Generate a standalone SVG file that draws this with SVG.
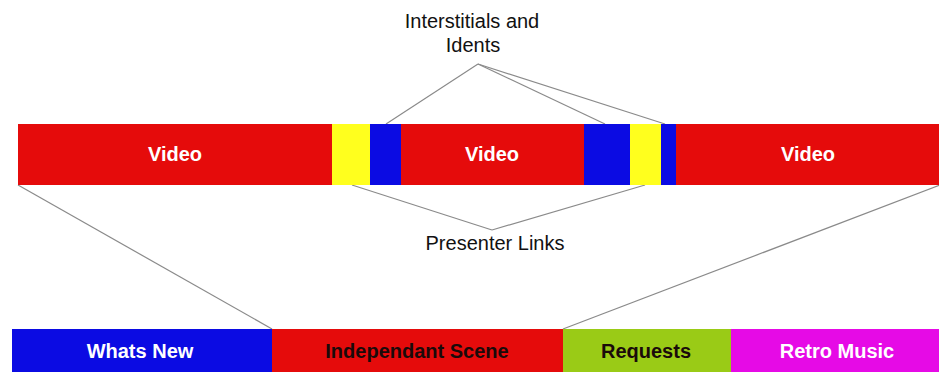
<svg xmlns="http://www.w3.org/2000/svg" width="939" height="372" viewBox="0 0 939 372">
  <style>
    .red { fill: #e50b0b; }
    .blue { fill: #0b0be3; }
    .yellow { fill: #ffff1e; }
    .green { fill: #9acb16; }
    .magenta { fill: #e60ae6; }
    .lbl { font-family: "Liberation Sans", Arial, sans-serif; font-weight: bold; font-size: 20px; text-anchor: middle; }
    .light { fill: #ffffff; }
    .dark { fill: #1a0a0a; }
    .note { font-family: "Liberation Sans", Arial, sans-serif; font-size: 20px; text-anchor: middle; fill: #111111; }
    .conn line { stroke: #8a8a8a; stroke-width: 1.2; fill: none; }
  </style>
  <rect width="939" height="372" fill="#ffffff"/>

  <!-- connectors -->
  <g id="connectors" class="conn">
    <line x1="478" y1="64" x2="386" y2="124"/>
    <line x1="478" y1="64" x2="605" y2="124"/>
    <line x1="478" y1="64" x2="665" y2="124"/>
    <line x1="352" y1="185" x2="492" y2="230"/>
    <line x1="645" y1="185" x2="492" y2="230"/>
    <line x1="18" y1="185" x2="272" y2="329"/>
    <line x1="940" y1="185" x2="563" y2="329"/>
  </g>

  <!-- timeline strip -->
  <g id="video1"><rect class="red" x="18" y="124" width="314" height="61"/><text class="lbl light" x="175" y="161">Video</text></g>
  <g id="presenter1"><rect class="yellow" x="332" y="124" width="38" height="61"/></g>
  <g id="ident1"><rect class="blue" x="370" y="124" width="31" height="61"/></g>
  <g id="video2"><rect class="red" x="401" y="124" width="183" height="61"/><text class="lbl light" x="492" y="161">Video</text></g>
  <g id="ident2"><rect class="blue" x="584" y="124" width="46" height="61"/></g>
  <g id="presenter2"><rect class="yellow" x="630" y="124" width="31" height="61"/></g>
  <g id="ident3"><rect class="blue" x="661" y="124" width="15" height="61"/></g>
  <g id="video3"><rect class="red" x="676" y="124" width="263" height="61"/><text class="lbl light" x="808" y="161">Video</text></g>

  <!-- callout labels -->
  <g id="interstitials">
    <text class="note" x="472" y="28">Interstitials and</text>
    <text class="note" x="473" y="52">Idents</text>
  </g>
  <g id="presenterLinks"><text class="note" x="495" y="250">Presenter Links</text></g>

  <!-- programme strip -->
  <g id="whatsNew"><rect class="blue" x="12" y="329" width="260" height="45"/><text class="lbl light" x="140" y="358">Whats New</text></g>
  <g id="independantScene"><rect class="red" x="272" y="329" width="291" height="45"/><text class="lbl dark" x="417" y="358">Independant Scene</text></g>
  <g id="requests"><rect class="green" x="563" y="329" width="168" height="45"/><text class="lbl dark" x="646" y="358">Requests</text></g>
  <g id="retroMusic"><rect class="magenta" x="731" y="329" width="208" height="45"/><text class="lbl light" x="837" y="358">Retro Music</text></g>
</svg>
